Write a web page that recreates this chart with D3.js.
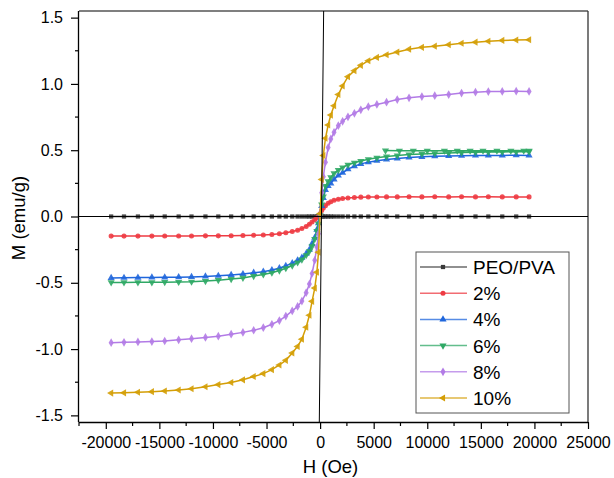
<!DOCTYPE html>
<html>
<head>
<meta charset="utf-8">
<script src="https://cdn.jsdelivr.net/npm/d3@7"></script>
<style>
  html, body { margin: 0; padding: 0; background: #fff; }
  svg { display: block; font-family: "Liberation Sans", Arial, sans-serif; }
</style>
</head>
<body>
<svg id="chart" width="614" height="478"></svg>
<script>
// ---------------- data ----------------
const fieldOe = [-19500,-18300,-17000,-15700,-14500,-13200,-12000,-10700,-9500,-8300,-7200,-6200,-5300,-4500,-3800,-3200,-2600,-2100,-1700,-1300,-1000,-750,-500,-300,-150,
  0,
  150,300,500,750,1000,1300,1700,2100,2600,3200,3800,4500,5300,6200,7200,8300,9500,10700,12000,13200,14500,15700,17000,18300,19500];

const mPEOPVA = [0,0,0,0,0,0,0,0,0,0,0,0,0,0,0,0,0,0,0,0,0,0,0,0,0,
  0,
  0,0,0,0,0,0,0,0,0,0,0,0,0,0,0,0,0,0,0,0,0,0,0,0,0];

const m2 = [-0.148,-0.148,-0.148,-0.148,-0.147,-0.147,-0.147,-0.146,-0.146,-0.145,-0.144,-0.142,-0.139,-0.135,-0.130,-0.123,-0.113,-0.103,-0.091,-0.075,-0.058,-0.042,-0.025,-0.010,-0.003,
  0.020,
  0.045,0.065,0.082,0.100,0.112,0.122,0.130,0.136,0.140,0.144,0.146,0.147,0.147,0.148,0.148,0.149,0.148,0.149,0.148,0.149,0.148,0.149,0.148,0.148,0.148];

const m4 = [-0.463,-0.462,-0.461,-0.460,-0.459,-0.458,-0.456,-0.452,-0.447,-0.441,-0.434,-0.424,-0.416,-0.404,-0.390,-0.372,-0.352,-0.330,-0.310,-0.280,-0.250,-0.205,-0.160,-0.100,-0.050,
  0.010,
  0.080,0.140,0.200,0.230,0.250,0.280,0.310,0.330,0.357,0.380,0.397,0.410,0.420,0.430,0.437,0.445,0.450,0.455,0.457,0.459,0.460,0.461,0.461,0.462,0.461];

const m6 = [-0.497,-0.497,-0.496,-0.496,-0.495,-0.494,-0.492,-0.487,-0.480,-0.472,-0.463,-0.449,-0.437,-0.424,-0.408,-0.390,-0.370,-0.347,-0.325,-0.292,-0.262,-0.225,-0.170,-0.110,-0.055,
  0.010,
  0.090,0.150,0.230,0.265,0.295,0.325,0.350,0.370,0.390,0.405,0.418,0.432,0.443,0.452,0.460,0.467,0.472,0.476,0.479,0.482,0.484,0.486,0.487,0.488,0.489];
// extra return branch of the 6% loop (high field, sweeping back down)
const field6Return = [19500,19000,17800,16500,15200,14000,12800,11600,10000,8700,7400,6100];
const m6Return = [0.496,0.496,0.496,0.496,0.496,0.496,0.496,0.496,0.496,0.496,0.496,0.497];

const m8 = [-0.952,-0.949,-0.946,-0.943,-0.939,-0.930,-0.922,-0.912,-0.903,-0.888,-0.874,-0.858,-0.839,-0.813,-0.785,-0.751,-0.712,-0.678,-0.638,-0.575,-0.510,-0.430,-0.330,-0.230,-0.130,
  0.020,
  0.180,0.300,0.410,0.520,0.585,0.635,0.685,0.718,0.752,0.778,0.805,0.828,0.845,0.862,0.882,0.895,0.905,0.911,0.920,0.931,0.938,0.942,0.943,0.945,0.943];

const m10 = [-1.332,-1.330,-1.326,-1.321,-1.316,-1.309,-1.299,-1.284,-1.268,-1.252,-1.232,-1.207,-1.185,-1.155,-1.120,-1.085,-1.030,-0.980,-0.925,-0.835,-0.745,-0.640,-0.540,-0.420,-0.270,
  0.020,
  0.280,0.460,0.590,0.690,0.765,0.835,0.920,0.985,1.055,1.100,1.140,1.175,1.200,1.220,1.240,1.262,1.276,1.285,1.296,1.307,1.315,1.322,1.328,1.331,1.333];

const seriesNames = ["PEO/PVA", "2%", "4%", "6%", "8%", "10%"];
const seriesColors = ["#3a3a3a", "#ee3b43", "#1f66dc", "#2fa865", "#b27be6", "#d49e06"];
const seriesSymbols = ["square", "circle", "triUp", "triDown", "diamond", "triLeft"];

const xTickValues = [-20000, -15000, -10000, -5000, 0, 5000, 10000, 15000, 20000, 25000];
const yTickValues = [-1.5, -1.0, -0.5, 0.0, 0.5, 1.0, 1.5];
const xDomain = [-22500, 25000];
const yDomain = [-1.55, 1.55];
// slanted vertical reference line through origin (H values at bottom/top)
const refLineH = [-75, 330];

// ---------------- build ----------------
const seriesData = [
  fieldOe.map((h, i) => [h, mPEOPVA[i]]),
  fieldOe.map((h, i) => [h, m2[i]]),
  fieldOe.map((h, i) => [h, m4[i]]),
  fieldOe.map((h, i) => [h, m6[i]]).concat(field6Return.map((h, i) => [h, m6Return[i]])),
  fieldOe.map((h, i) => [h, m8[i]]),
  fieldOe.map((h, i) => [h, m10[i]])
];

const svg = d3.select("#chart");
const L = 79, R = 588, T = 11, B = 422;
const x = d3.scaleLinear().domain(xDomain).range([L, R]);
const y = d3.scaleLinear().domain(yDomain).range([B, T]);

function symPath(kind) {
  switch (kind) {
    case "square": return d3.symbol(d3.symbolSquare, 18)();
    case "circle": return d3.symbol(d3.symbolCircle, 20)();
    case "triUp": return d3.symbol(d3.symbolTriangle, 22)();
    case "triDown": return d3.symbol(d3.symbolTriangle, 22)();
    case "diamond": return d3.symbol(d3.symbolDiamond, 22)();
    case "triLeft": return d3.symbol(d3.symbolTriangle, 22)();
  }
}
function symRot(kind) {
  if (kind === "triDown") return 180;
  if (kind === "triLeft") return -90;
  return 0;
}

// box
svg.append("line").attr("x1", L).attr("x2", R).attr("y1", T).attr("y2", T)
  .attr("stroke", "#555").attr("stroke-width", 1.3);
svg.append("line").attr("x1", R).attr("x2", R).attr("y1", T).attr("y2", B)
  .attr("stroke", "#333").attr("stroke-width", 1.3);

// series
const line = d3.line().x(d => x(d[0])).y(d => y(d[1]));
seriesData.forEach((data, si) => {
  const g = svg.append("g");
  g.append("path").datum(data).attr("d", line)
    .attr("fill", "none").attr("stroke", seriesColors[si]).attr("stroke-width", 1.5);
  g.selectAll("path.m").data(data).enter().append("path").attr("class", "m")
    .attr("d", symPath(seriesSymbols[si]))
    .attr("transform", d => `translate(${x(d[0])},${y(d[1])}) rotate(${symRot(seriesSymbols[si])})`)
    .attr("fill", seriesColors[si]).attr("fill-opacity", 0.9);
});

// zero reference lines
svg.append("line").attr("x1", L).attr("x2", R).attr("y1", y(0)).attr("y2", y(0))
  .attr("stroke", "#000").attr("stroke-width", 1);
svg.append("line").attr("x1", x(refLineH[0])).attr("x2", x(refLineH[1]))
  .attr("y1", B).attr("y2", T).attr("stroke", "#000").attr("stroke-width", 1);

// axes
const xAxis = d3.axisBottom(x).tickValues(xTickValues).tickSize(7).tickPadding(8)
  .tickFormat(d => String(d));
const gx = svg.append("g").attr("transform", `translate(0,${B})`).call(xAxis);
gx.select(".domain").attr("d", `M${L},0.5H${R}`).attr("stroke", "#000").attr("stroke-width", 1.3);
gx.selectAll("text").attr("font-size", 16).attr("fill", "#000")
  .attr("font-family", '"Liberation Sans", Arial, sans-serif');
gx.selectAll(".tick line").attr("stroke", "#000").attr("stroke-width", 1.2);
const xMinor = d3.range(-22500, 25001, 2500).filter(v => v % 5000 !== 0);
svg.append("g").selectAll("line").data(xMinor).enter().append("line")
  .attr("x1", d => x(d)).attr("x2", d => x(d)).attr("y1", B).attr("y2", B + 4)
  .attr("stroke", "#000").attr("stroke-width", 1.2);

const yAxis = d3.axisLeft(y).tickValues(yTickValues).tickSize(8).tickPadding(8)
  .tickFormat(d => d.toFixed(1));
const gy = svg.append("g").attr("transform", `translate(${L},0)`).call(yAxis);
gy.select(".domain").attr("d", `M-0.5,${T}V${B}`).attr("stroke", "#000").attr("stroke-width", 1.3);
gy.selectAll("text").attr("font-size", 16).attr("fill", "#000")
  .attr("font-family", '"Liberation Sans", Arial, sans-serif');
gy.selectAll(".tick line").attr("stroke", "#000").attr("stroke-width", 1.2);
const yMinor = [-1.25, -0.75, -0.25, 0.25, 0.75, 1.25];
svg.append("g").selectAll("line").data(yMinor).enter().append("line")
  .attr("x1", L - 4).attr("x2", L).attr("y1", d => y(d)).attr("y2", d => y(d))
  .attr("stroke", "#000").attr("stroke-width", 1.2);

// axis titles
svg.append("text").attr("x", (L + R) / 2 - 3).attr("y", 473).attr("text-anchor", "middle")
  .attr("font-size", 18.5).attr("fill", "#000").text("H (Oe)");
svg.append("text").attr("transform", `translate(25,${218}) rotate(-90)`).attr("text-anchor", "middle")
  .attr("font-size", 18.5).attr("fill", "#000").text("M (emu/g)");

// legend
const lg = svg.append("g");
lg.append("rect").attr("x", 416).attr("y", 252).attr("width", 153).attr("height", 161)
  .attr("fill", "#fff").attr("stroke", "#555").attr("stroke-width", 1);
seriesNames.forEach((name, i) => {
  const cy = 267 + i * 26.2;
  lg.append("line").attr("x1", 420).attr("x2", 467).attr("y1", cy).attr("y2", cy)
    .attr("stroke", seriesColors[i]).attr("stroke-width", 1.5).attr("stroke-opacity", 0.75);
  lg.append("path").attr("d", symPath(seriesSymbols[i]))
    .attr("transform", `translate(443,${cy}) rotate(${symRot(seriesSymbols[i])})`)
    .attr("fill", seriesColors[i]);
  lg.append("text").attr("x", 473).attr("y", cy + 7).attr("font-size", 19).attr("fill", "#000").text(name);
});
</script>
</body>
</html>
